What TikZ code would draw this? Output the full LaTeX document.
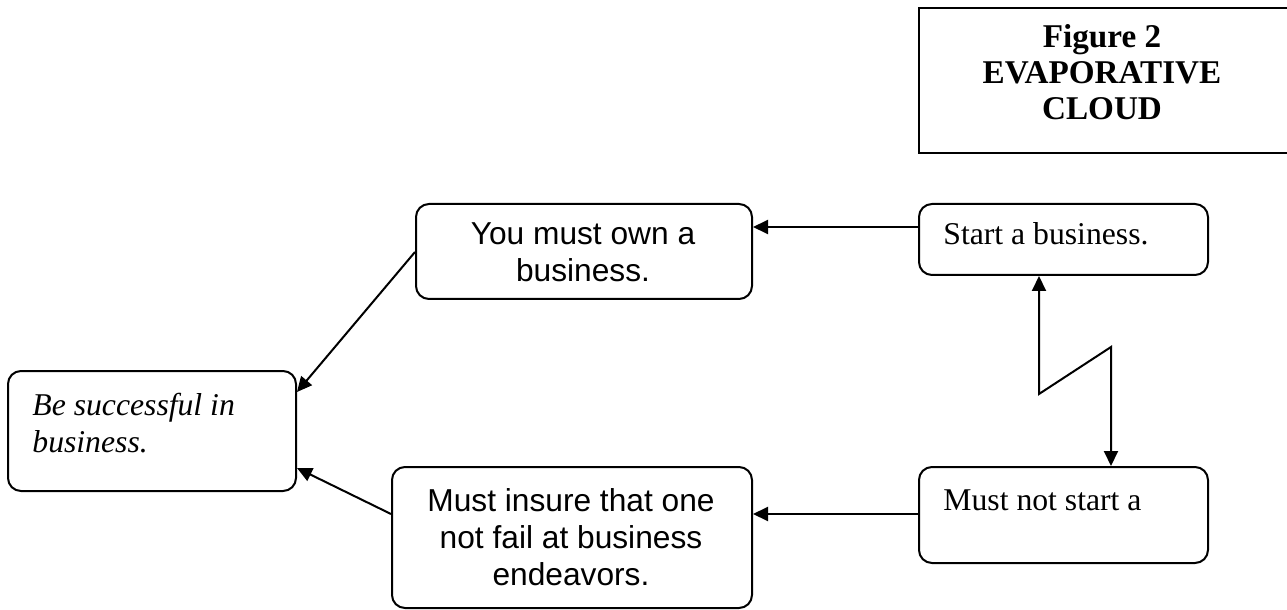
\documentclass[tikz,border=0pt]{standalone}
\usepackage{fontspec}
\setmainfont{Liberation Serif}
\newfontfamily\arialfont{Liberation Sans}
\usetikzlibrary{arrows.meta}
\begin{document}
\begin{tikzpicture}[x=0.5pt,y=-0.5pt,
  box/.style={draw,line width=1pt,rounded corners=6.5pt,anchor=north west,inner sep=0pt},
  tbox/.style={draw,line width=1pt,anchor=north west,inner sep=0pt},
  conn/.style={line width=1pt,-{Triangle[length=7.5pt,width=7pt]}},
  serif/.style={font=\fontsize{15.85}{18.3}\selectfont,inner sep=0pt},
  sans/.style={font=\arialfont\fontsize{15.85}{18.5}\selectfont,inner sep=0pt,align=center},
]
\path[fill=white,use as bounding box] (0,0) rectangle (1287,610);
\clip (0,0) rectangle (1287,610);
% title box
\node[tbox,minimum width=191pt,minimum height=72.5pt] (title) at (918,7) {};
\node[serif,font=\bfseries\fontsize{16.6}{18}\selectfont,align=center,anchor=base] (tt) at (1102,120) {Figure 2\\EVAPORATIVE\\CLOUD};
% boxes
\node[box,minimum width=168pt,minimum height=47.5pt] (own) at (415,203) {};
\node[box,minimum width=144.5pt,minimum height=35.5pt] (start) at (918,203) {};
\node[box,minimum width=144.5pt,minimum height=48pt] (notstart) at (918,466) {};
\node[box,minimum width=180pt,minimum height=70.5pt] (insure) at (391,466) {};
\node[box,minimum width=144pt,minimum height=60pt] (succ) at (7,370) {};
% texts
\node[sans,anchor=base] (ownt) at (583,282) {You must own a\\business.};
\node[sans,anchor=base] (insuret) at (571,585) {Must insure that one\\not fail at business\\endeavors.};
\node[serif,anchor=base west] (startt) at (943,245) {Start a business.};
\node[serif,anchor=base west] (notstartt) at (943,510) {Must not start a};
\node[serif,font=\itshape\fontsize{15.85}{18.5}\selectfont,align=left,anchor=base west] (succt) at (32,452) {Be successful in\\business.};
% connector helpers
\coordinate (y1) at (0,227);
\coordinate (y2) at (0,514);
\coordinate (y3) at (0,252);
\coordinate (y4) at (0,392);
\coordinate (y5) at (0,468);
\coordinate (z1) at (1039,394);
\coordinate (z2) at (1111,347);
% connectors
\draw[conn] (start.west |- y1) -- (own.east |- y1);
\draw[conn] (notstart.west |- y2) -- (insure.east |- y2);
\draw[conn] (own.west |- y3) -- (succ.east |- y4);
\draw[conn] (insure.west |- y2) -- (succ.east |- y5);
\draw[line width=1pt,{Triangle[length=7.5pt,width=7pt]}-{Triangle[length=7.5pt,width=7pt]}]
  (start.south -| z1) -- (z1) -- (z2) -- (notstart.north -| z2);
\end{tikzpicture}
\end{document}
